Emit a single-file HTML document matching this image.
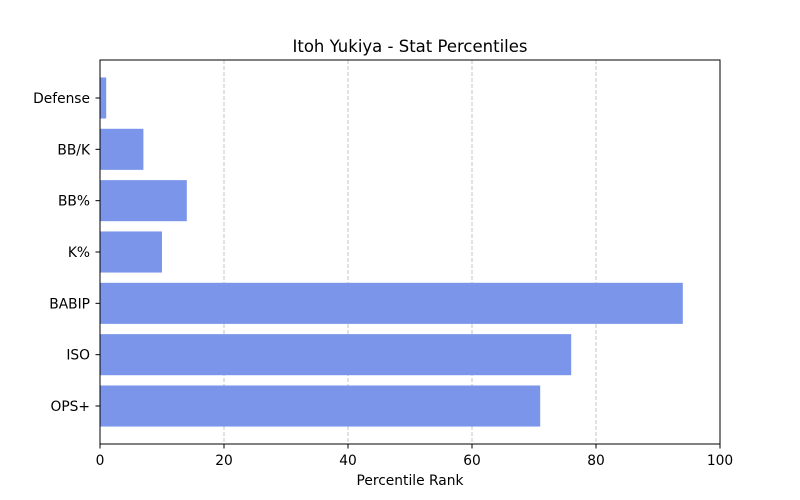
<!DOCTYPE html>
<html><head><meta charset="utf-8"><style>
html,body{margin:0;padding:0;background:#fff;}
svg{display:block;font-family:"DejaVu Sans","Liberation Sans",sans-serif;}
</style></head><body>
<svg id="chart" width="800" height="500"></svg>
<script>
const categories = ["OPS+","ISO","BABIP","K%","BB%","BB/K","Defense"];
const values = [71,76,94,10,14,7,1];
const xTicks = [0,20,40,60,80,100];
const tickLabels = ["0","20","40","60","80","100"];

const L=100,R=720,T=60,B=444;
const xMin=0,xMax=100,yMin=-0.74,yMax=6.74;
const sx=v=>L+(v-xMin)/(xMax-xMin)*(R-L);
const sy=v=>B-(v-yMin)/(yMax-yMin)*(B-T);
const NS="http://www.w3.org/2000/svg";
const svg=document.getElementById('chart');
function mk(tag,attrs,parent){const e=document.createElementNS(NS,tag);for(const k in attrs)e.setAttribute(k,attrs[k]);(parent||svg).appendChild(e);return e;}

xTicks.forEach((t,i)=>{
  if(t===xMin||t===xMax) return;
  const g=mk('line',{x1:sx(t),x2:sx(t),y1:T,y2:B,stroke:'#c4c4c4','stroke-width':1,'stroke-dasharray':'4,2'});
  
  
});
categories.forEach((c,i)=>{
  const r=mk('rect',{x:sx(0),y:sy(i+0.4),width:sx(values[i])-sx(0),height:sy(i-0.4)-sy(i+0.4),fill:'#7a95e9'});
  
  
  const tk=mk('line',{x1:L-4.5,x2:L,y1:sy(i),y2:sy(i),stroke:'#000','stroke-width':1});
  
  
  const tx=mk('text',{x:L-10,y:sy(i)+5,'text-anchor':'end','font-size':13.8,fill:'#000'});
  tx.textContent=c;
  
  
});
xTicks.forEach((t,i)=>{
  const tk=mk('line',{x1:sx(t),x2:sx(t),y1:B,y2:B+4.5,stroke:'#000','stroke-width':1});
  
  
  const tx=mk('text',{x:sx(t),y:B+21,'text-anchor':'middle','font-size':13.8,fill:'#000'});
  tx.textContent=tickLabels[i];
  
  
});
const f=mk('rect',{x:L,y:T,width:R-L,height:B-T,fill:'none',stroke:'#000','stroke-width':1});


const xt=mk('text',{x:(L+R)/2,y:485,'text-anchor':'middle','font-size':13.8,fill:'#000'});
xt.textContent='Percentile Rank';


const ti=mk('text',{x:(L+R)/2,y:52,'text-anchor':'middle','font-size':16.5,fill:'#000'});
ti.textContent='Itoh Yukiya - Stat Percentiles';


</script>
</body></html>
